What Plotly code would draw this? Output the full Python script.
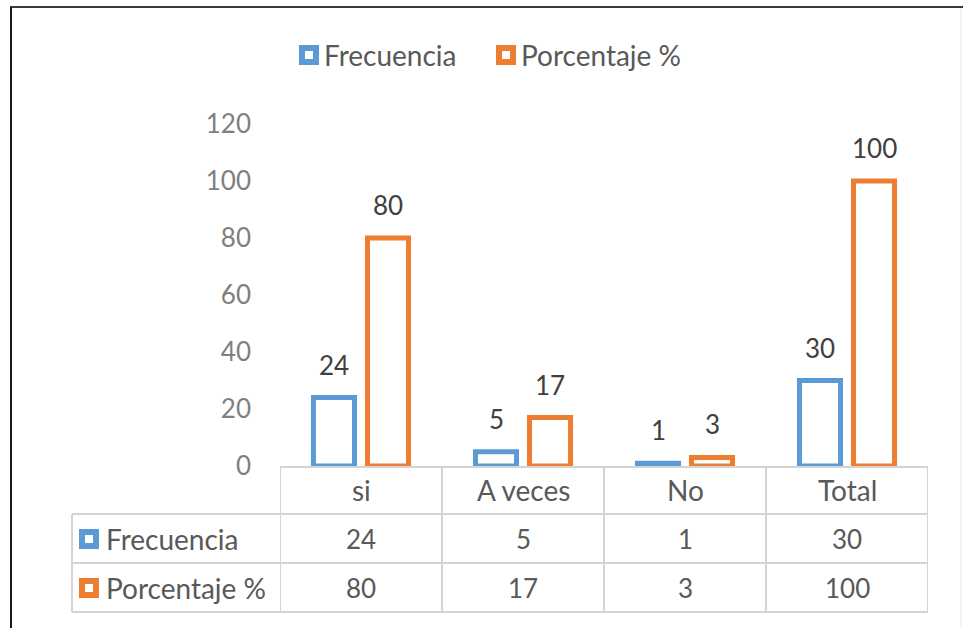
import plotly.graph_objects as go

categories = ["si", "A veces", "No", "Total"]
frecuencia = [24, 5, 1, 30]
porcentaje = [80, 17, 3, 100]
series_names = ["Frecuencia", "Porcentaje %"]
y_ticks = [0, 20, 40, 60, 80, 100, 120]

BLUE = "#5B9BD5"
ORANGE = "#ED7D31"
GRID = "#D4D4D4"
TXT = "#595959"
FONT = "Lato"

W, H = 963, 628
def px(x): return x / W
def py(y): return 1 - y / H

fig = go.Figure()
for name, vals, col in [(series_names[0], frecuencia, BLUE), (series_names[1], porcentaje, ORANGE)]:
    fig.add_trace(go.Bar(
        x=categories, y=vals, name=name,
        marker=dict(color="white", line=dict(color=col, width=5)),
        hoverinfo="x+y", showlegend=False,
    ))

annotations = []
# data labels
for vals, shift in [(frecuencia, -27), (porcentaje, 27)]:
    for c, v in zip(categories, vals):
        annotations.append(dict(x=c, y=v, xref="x", yref="y", text=str(v), showarrow=False,
                                xshift=shift, yshift=33, yanchor="middle",
                                font=dict(family=FONT, size=26, color="#404040")))
# table: category row
for c in categories:
    annotations.append(dict(x=c, y=py(490), xref="x", yref="paper", text=c, showarrow=False,
                            yanchor="middle", font=dict(family=FONT, size=28, color=TXT)))
# table rows
for vals, ycen in [(frecuencia, 539), (porcentaje, 588)]:
    for c, v in zip(categories, vals):
        annotations.append(dict(x=c, y=py(ycen), xref="x", yref="paper", text=str(v), showarrow=False,
                                yanchor="middle", font=dict(family=FONT, size=26, color=TXT)))
# row headers
for name, ycen in [(series_names[0], 539), (series_names[1], 588)]:
    annotations.append(dict(x=px(106), y=py(ycen), xref="paper", yref="paper", text=name, showarrow=False,
                            xanchor="left", yanchor="middle", xshift=-2,
                            font=dict(family=FONT, size=28, color=TXT)))
# top legend
for name, xl in [(series_names[0], 324), (series_names[1], 521)]:
    annotations.append(dict(x=px(xl), y=py(55), xref="paper", yref="paper", text=name, showarrow=False,
                            xanchor="left", yanchor="middle", xshift=-2,
                            font=dict(family=FONT, size=28, color=TXT)))

shapes = []
line = dict(color=GRID, width=2)
# horizontal table lines
for yy in [514, 563, 612]:
    shapes.append(dict(type="line", xref="paper", yref="paper", x0=px(72), x1=px(928), y0=py(yy), y1=py(yy), line=line))
shapes.append(dict(type="line", xref="paper", yref="paper", x0=px(280), x1=px(928), y0=py(467), y1=py(467), line=line))
# vertical table lines at category boundaries
for i in range(len(categories) + 1):
    shapes.append(dict(type="line", xref="x", yref="paper", x0=i - 0.5, x1=i - 0.5, y0=py(467), y1=py(612), line=line))
shapes.append(dict(type="line", xref="paper", yref="paper", x0=px(72), x1=px(72), y0=py(514), y1=py(612), line=line))
# legend keys (row headers and top legend)
for col, xc, yc in [(BLUE, 89, 539), (ORANGE, 89, 588), (BLUE, 309, 55), (ORANGE, 506, 55)]:
    shapes.append(dict(type="rect", xref="paper", yref="paper", x0=px(xc - 7), x1=px(xc + 7),
                       y0=py(yc + 7), y1=py(yc - 7),
                       line=dict(color=col, width=6), fillcolor="white"))
# chart border
shapes.append(dict(type="line", xref="paper", yref="paper", x0=px(10), x1=1, y0=py(7), y1=py(7), line=dict(color="#3a3a3a", width=2)))
shapes.append(dict(type="line", xref="paper", yref="paper", x0=px(11), x1=px(11), y0=py(7), y1=0, line=dict(color="#1a1a1a", width=2)))
shapes.append(dict(type="line", xref="paper", yref="paper", x0=px(961), x1=px(961), y0=py(8), y1=0, line=dict(color="#E6E6E6", width=1)))

fig.update_layout(
    width=W, height=H,
    margin=dict(l=0, r=0, t=0, b=0, autoexpand=False),
    paper_bgcolor="white", plot_bgcolor="white",
    barmode="group", bargap=0.333, bargroupgap=0.24,
    font=dict(family=FONT, size=24, color=TXT),
    showlegend=False,
    xaxis=dict(domain=[px(280), px(928)], showticklabels=False, showgrid=False, zeroline=False,
               showline=False, range=[-0.5, 3.5], fixedrange=True, automargin=False),
    yaxis=dict(domain=[py(466), py(124)], range=[0, 120], tickvals=y_ticks, showgrid=False,
               zeroline=False, showline=False, ticks="", ticklabelstandoff=28, automargin=False,
               tickfont=dict(family=FONT, size=26, color="#7F7F7F")),
    annotations=annotations, shapes=shapes,
)

fig.write_html("out.html", config={"displayModeBar": False},
               post_script="document.body.style.margin='0px';")
